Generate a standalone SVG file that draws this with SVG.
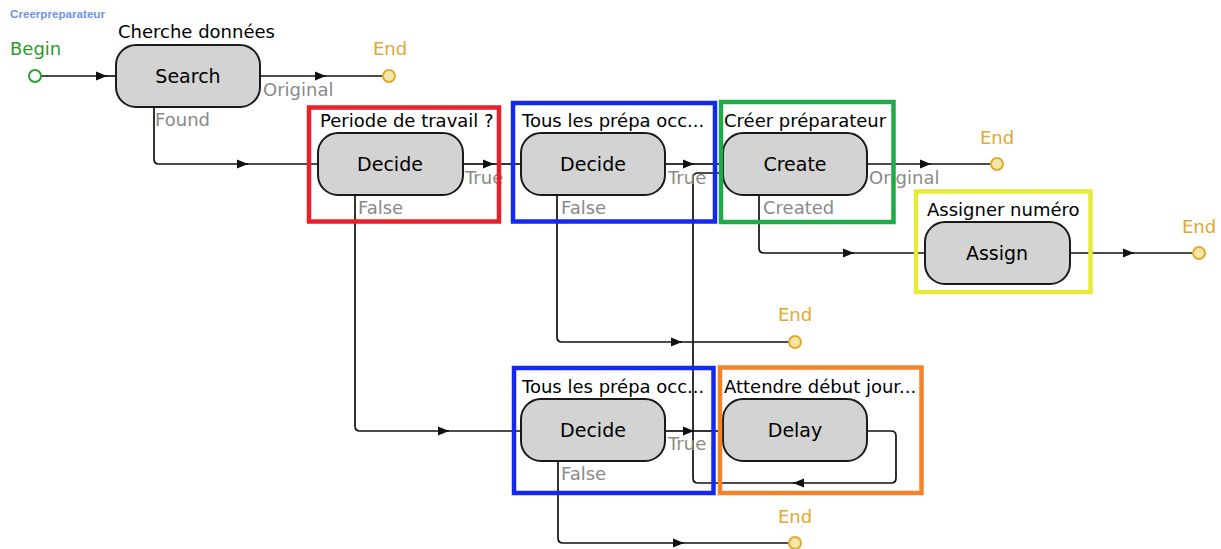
<svg xmlns="http://www.w3.org/2000/svg" width="1221" height="549" viewBox="0 0 1221 549">
<defs>
<style>
.t{font-family:"DejaVu Sans","Liberation Sans",sans-serif;font-size:18px;fill:#000}
.lbl{font-family:"DejaVu Sans","Liberation Sans",sans-serif;font-size:18px;fill:#8a8a8a}
.nt{font-family:"DejaVu Sans","Liberation Sans",sans-serif;font-size:19px;fill:#000;text-anchor:middle}
.endt{font-family:"DejaVu Sans","Liberation Sans",sans-serif;font-size:18px;fill:#e0a830;text-anchor:middle}
.node{fill:#d3d3d3;stroke:#1a1a1a;stroke-width:2}
.end{fill:#f1e6a6;stroke:#e0aa30;stroke-width:2}
.c{fill:none;stroke:#111;stroke-width:1.7}
.fr{fill:none;stroke-width:4.5}
</style>
<marker id="a" viewBox="0 0 10 10" refX="10" refY="5" markerWidth="11" markerHeight="11" markerUnits="userSpaceOnUse" orient="auto">
<path d="M0,1 L10,5 L0,9 z" fill="#111"/>
</marker>
</defs>
<rect width="1221" height="549" fill="#fff"/>
<text x="10" y="18" font-family="Liberation Sans,Arial,sans-serif" font-size="10" font-weight="bold" fill="#6f93e6" textLength="95" lengthAdjust="spacingAndGlyphs">Creerpreparateur</text>

<g id="connectors">
<path class="c" d="M41,76 H107" marker-end="url(#a)"/><path class="c" d="M105,76 H116"/>
<path class="c" d="M260,76 H326" marker-end="url(#a)"/><path class="c" d="M324,76 H382"/>
<path class="c" d="M154,107 V159 Q154,164 159,164 H248" marker-end="url(#a)"/><path class="c" d="M246,164 H317"/>
<path class="c" d="M463,164 H494" marker-end="url(#a)"/><path class="c" d="M492,164 H521"/>
<path class="c" d="M355,195 V426 Q355,431 360,431 H449" marker-end="url(#a)"/><path class="c" d="M447,431 H521"/>
<path class="c" d="M665,164 H694" marker-end="url(#a)"/><path class="c" d="M692,164 H723"/>
<path class="c" d="M557,195 V337 Q557,342 562,342 H682" marker-end="url(#a)"/><path class="c" d="M680,342 H788"/>
<path class="c" d="M867,164 H931" marker-end="url(#a)"/><path class="c" d="M929,164 H990"/>
<path class="c" d="M759,195 V248 Q759,253 764,253 H854" marker-end="url(#a)"/><path class="c" d="M852,253 H925"/>
<path class="c" d="M1070,253 H1134" marker-end="url(#a)"/><path class="c" d="M1132,253 H1192"/>
<path class="c" d="M665,431 H694" marker-end="url(#a)"/><path class="c" d="M692,431 H723"/>
<path class="c" d="M558,461 V538 Q558,543 563,543 H684" marker-end="url(#a)"/><path class="c" d="M682,543 H788"/>
<path class="c" d="M867,431 H891 Q896,431 896,436 V478 Q896,483 891,483 H793" marker-end="url(#a)"/>
<path class="c" d="M795,483 H698 Q693,483 693,478 V178 Q693,173 698,173 H723"/>
</g>

<g id="begin">
<text x="10" y="55" font-family="DejaVu Sans,Liberation Sans,sans-serif" font-size="18" fill="#2a9a2a">Begin</text>
<circle cx="35" cy="76" r="6" fill="#fff" stroke="#2f9f2f" stroke-width="2"/>
</g>
<g id="search">
<text class="t" x="118" y="38">Cherche données</text>
<rect class="node" x="116" y="45" width="144" height="62" rx="20"/>
<text class="nt" x="188" y="83">Search</text>
<text class="lbl" x="263" y="96">Original</text>
<text class="lbl" x="155" y="126">Found</text>
</g>
<g id="end1"><text class="endt" x="390" y="55">End</text><circle class="end" cx="389" cy="76" r="6"/></g>

<g id="decide1">
<text class="t" x="320" y="127">Periode de travail ?</text>
<rect class="node" x="318" y="133" width="145" height="62" rx="20"/>
<text class="nt" x="390" y="171">Decide</text>
<text class="lbl" x="465" y="184">True</text>
<text class="lbl" x="358" y="214">False</text>
</g>
<g id="decide2">
<text class="t" x="522" y="127">Tous les prépa occ...</text>
<rect class="node" x="521" y="133" width="144" height="62" rx="20"/>
<text class="nt" x="593" y="171">Decide</text>
<text class="lbl" x="668" y="184">True</text>
<text class="lbl" x="561" y="214">False</text>
</g>
<g id="create">
<text class="t" x="724" y="127">Créer préparateur</text>
<rect class="node" x="723" y="133" width="144" height="62" rx="20"/>
<text class="nt" x="795" y="171">Create</text>
<text class="lbl" x="869" y="184">Original</text>
<text class="lbl" x="763" y="214">Created</text>
</g>
<g id="end2"><text class="endt" x="997" y="144">End</text><circle class="end" cx="997" cy="164" r="6"/></g>
<g id="assign">
<text class="t" x="927" y="216">Assigner numéro</text>
<rect class="node" x="925" y="222" width="145" height="62" rx="20"/>
<text class="nt" x="997" y="260">Assign</text>
</g>
<g id="end3"><text class="endt" x="1199" y="233">End</text><circle class="end" cx="1199" cy="253" r="6"/></g>
<g id="end4"><text class="endt" x="795" y="321">End</text><circle class="end" cx="795" cy="342" r="6"/></g>
<g id="decide3">
<text class="t" x="522" y="393">Tous les prépa occ...</text>
<rect class="node" x="521" y="399" width="144" height="62" rx="20"/>
<text class="nt" x="593" y="437">Decide</text>
<text class="lbl" x="668" y="450">True</text>
<text class="lbl" x="561" y="480">False</text>
</g>
<g id="delay">
<text class="t" x="724" y="393">Attendre début jour...</text>
<rect class="node" x="723" y="399" width="144" height="62" rx="20"/>
<text class="nt" x="795" y="437">Delay</text>
</g>
<g id="end5"><text class="endt" x="795" y="523">End</text><circle class="end" cx="795" cy="543" r="6"/></g>

<g id="frames">
<rect class="fr" stroke="#e8202a" x="309" y="107.5" width="190" height="114"/>
<rect class="fr" stroke="#1428f0" x="513" y="103" width="202" height="118.5"/>
<rect class="fr" stroke="#22aa48" x="721" y="102" width="172.5" height="120"/>
<rect class="fr" stroke="#e6ea38" x="916" y="191.5" width="174.5" height="100.5"/>
<rect class="fr" stroke="#1428f0" x="514" y="368" width="199.5" height="125"/>
<rect class="fr" stroke="#f5822a" x="720" y="367.5" width="201.5" height="125.5"/>
</g>
</svg>
